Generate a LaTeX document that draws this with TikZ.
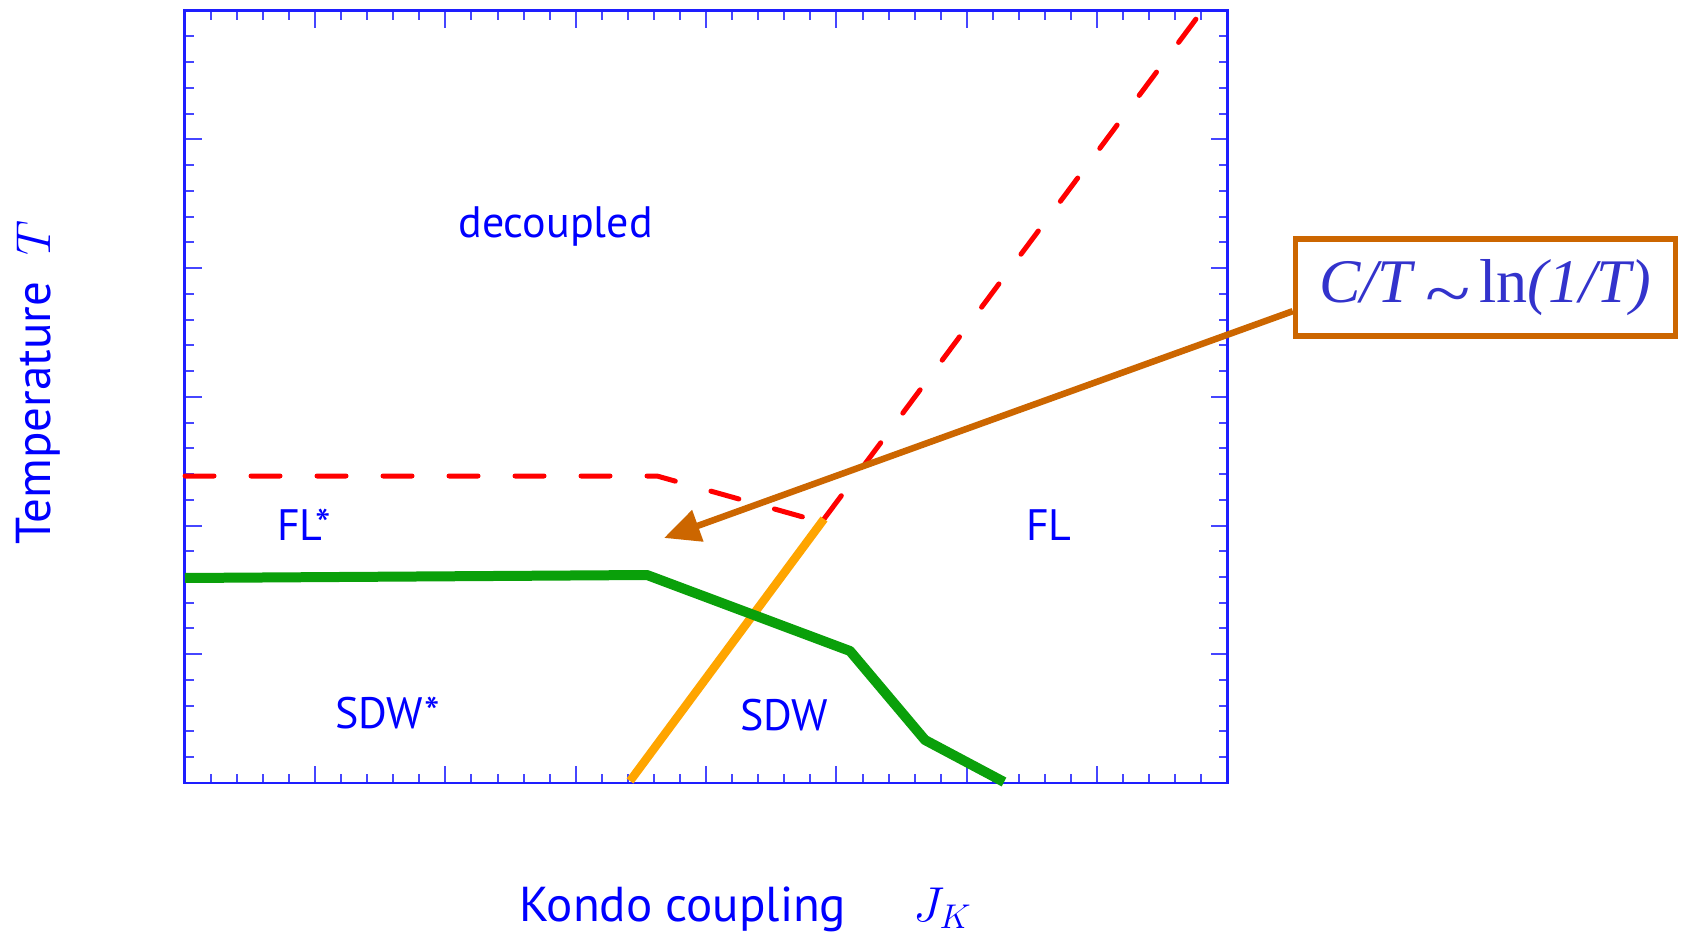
\documentclass[tikz,border=0pt]{standalone}
\usepackage{fix-cm}
\usepackage{fontspec}
\setsansfont{PT Sans}
\newfontfamily\tms{Liberation Serif}
\usetikzlibrary{arrows.meta}
\definecolor{lblue}{RGB}{0,0,255}
\definecolor{frameblue}{RGB}{30,30,255}
\definecolor{tickblue}{RGB}{70,70,255}
\definecolor{dred}{RGB}{255,0,0}
\definecolor{gline}{RGB}{10,160,10}
\definecolor{oline}{RGB}{255,165,0}
\definecolor{brn}{RGB}{204,102,0}
\definecolor{mblue}{RGB}{51,51,204}
\begin{document}
\begin{tikzpicture}[x=1pt,y=-1pt,
  lbl/.style={text=lblue, font=\sffamily\fontsize{44}{48}\selectfont, inner sep=0pt},
  axl/.style={text=lblue, font=\sffamily\fontsize{49}{52}\selectfont, inner sep=0pt},
  tck/.style={draw=tickblue, line width=2pt},
  redline/.style={draw=dred, line width=5pt, line cap=round, dash pattern=on 29pt off 37pt},
  greenline/.style={draw=gline, line width=10pt, line join=round},
  orangeline/.style={draw=oline, line width=8.5pt},
  callout/.style={draw=brn, line width=5.5pt, minimum width=380pt, minimum height=97pt, inner sep=0pt, fill=white, text=mblue, font=\tms\fontsize{62}{66}\selectfont},
  pointer/.style={draw=brn, line width=6.5pt, -{Triangle[length=36pt,width=32pt]}}]
\useasboundingbox (0,0) rectangle (1684,933);
\fill[white] (0,0) rectangle (1684,933);
% ticks
\foreach \i in {1,...,39} {
  \pgfmathsetmacro\xx{184.7+26.07*\i}
  \pgfmathtruncatemacro\m{mod(\i,5)}
  \ifnum\m=0 \def\L{17}\else\def\L{9}\fi
  \draw[tck] (\xx,783) -- ++(0,-\L);
  \draw[tck] (\xx,10.7) -- ++(0,\L);
}
\foreach \j in {1,...,29} {
  \pgfmathsetmacro\yy{10.7+25.74*\j}
  \pgfmathtruncatemacro\m{mod(\j,5)}
  \ifnum\m=0 \def\L{17}\else\def\L{9}\fi
  \draw[tck] (184.7,\yy) -- ++(\L,0);
  \draw[tck] (1227.6,\yy) -- ++(-\L,0);
}
\draw[frameblue, line width=2.5pt] (184.7,10.7) rectangle (1227.6,783);
% curves
\coordinate (r0) at (185,476);
\coordinate (r1) at (657,476);
\coordinate (r2) at (803,517);
\coordinate (o0) at (630,781);
\coordinate (o1) at (824,519);
\coordinate (r3) at (1199,15);
\coordinate (g0) at (185,578);
\coordinate (g1) at (647,575);
\coordinate (g2) at (850,651);
\coordinate (g3) at (925,740);
\coordinate (g4) at (1004,782);
\draw[redline] (r0) -- (r1) -- (r2);
\draw[redline] (o1) -- (r3);
\draw[orangeline] (o0) -- (o1);
\draw[greenline] (g0) -- (g1) -- (g2) -- (g3) -- (g4);
% labels
\node[lbl, anchor=base] (dec) at (555.5,238) {decoupled};
\node[lbl, anchor=base west] (flstar) at (277,540) {FL*};
\node[lbl, anchor=base west] (fl) at (1026,540) {FL};
\node[lbl, anchor=base west] (sdwstar) at (335,728) {SDW*};
\node[lbl, anchor=base west] (sdw) at (740,730) {SDW};
\node[axl, anchor=base, rotate=90] (temp) at (50,413) {Temperature};
\node[axl, anchor=base, rotate=90] (tsym) at (50,238) {$T$};
\node[axl, anchor=base west] (kondo) at (519,921) {Kondo coupling};
\node[axl, anchor=base west] (jk) at (913,921) {$J_K$};
% callout
\node[callout] (box) at (1485.5,287.5) {\textit{C/T}\hspace{9pt}\raisebox{-14pt}{\scalebox{1.35}[1.1]{\textasciitilde}}\hspace{9pt}ln\textit{(1/T)}};
\coordinate (tip) at (664,538);
\draw[pointer] (box.187) -- (tip);
\end{tikzpicture}
\end{document}
